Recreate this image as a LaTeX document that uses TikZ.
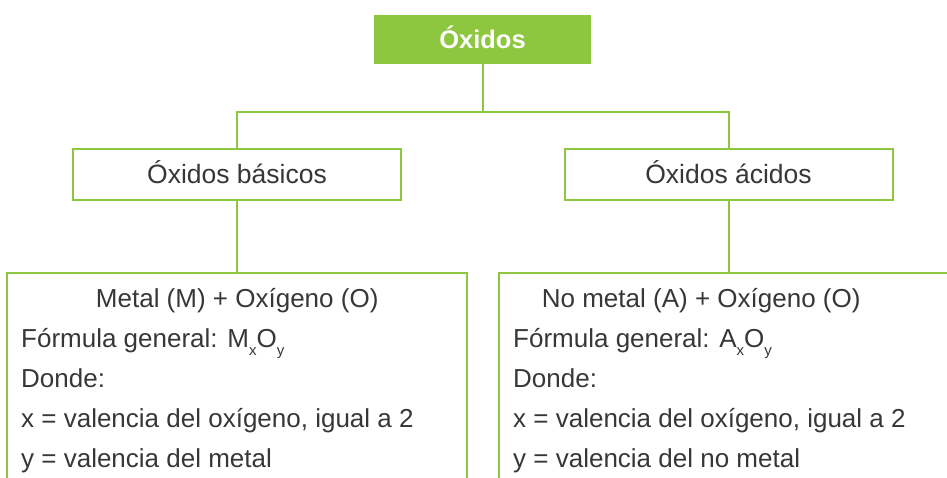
\documentclass[tikz,border=0pt]{standalone}
\usepackage{fontspec}
\setmainfont{Liberation Sans}
\definecolor{leaf}{RGB}{141,198,63}
\definecolor{ink}{RGB}{55,55,55}
\newcommand{\subidx}[1]{\raisebox{-8pt}{\fontsize{15}{15}\selectfont #1}}

\begin{document}
\begin{tikzpicture}[
  x=1pt, y=-1pt,
  headbox/.style={fill=leaf, text=white, font=\fontsize{25.5}{30}\selectfont\bfseries,
                  minimum width=217pt, minimum height=49pt, text height=18pt, text depth=0pt},
  kindbox/.style={draw=leaf, line width=2pt, text=ink, font=\fontsize{26.5}{30}\selectfont,
                  minimum width=328pt, minimum height=51pt, text height=18pt, text depth=0pt},
  card/.style={draw=leaf, line width=2pt, minimum width=460pt, minimum height=260pt, anchor=north},
  cardtext/.style={align=left, text=ink, font=\fontsize{26}{40}\selectfont, inner sep=0pt, anchor=base west},
  link/.style={draw=leaf, line width=2pt}
]
\useasboundingbox (0,0) rectangle (947,478);
\clip (0,0) rectangle (947,478);
\node[headbox] (oxidos) at (482.5,39.5) {Óxidos};
\node[kindbox] (basicos) at (237,175) {Óxidos básicos};
\node[kindbox] (acidos) at (728.5,175) {Óxidos ácidos};
\coordinate (split) at (482.5,112.5);
\node[card] (bascard) at (237,272) {};
\node[card] (accard) at (728.5,272) {};
\node[cardtext] (bastext) at (21,467)
  {\makebox[432pt]{Metal (M) + Oxígeno (O)}\\
   Fórmula general: M\subidx{x}O\subidx{y}\\
   Donde:\\
   x = valencia del oxígeno, igual a 2\\
   y = valencia del metal};
\node[cardtext] (actext) at (513,467)
  {\makebox[376pt]{No metal (A) + Oxígeno (O)}\\
   Fórmula general: A\subidx{x}O\subidx{y}\\
   Donde:\\
   x = valencia del oxígeno, igual a 2\\
   y = valencia del no metal};
\draw[link] (oxidos) -- (split);
\draw[link] (basicos.north) |- (split) -| (acidos.north);
\draw[link] (basicos) -- (bascard);
\draw[link] (acidos) -- (accard);
\end{tikzpicture}
\end{document}
